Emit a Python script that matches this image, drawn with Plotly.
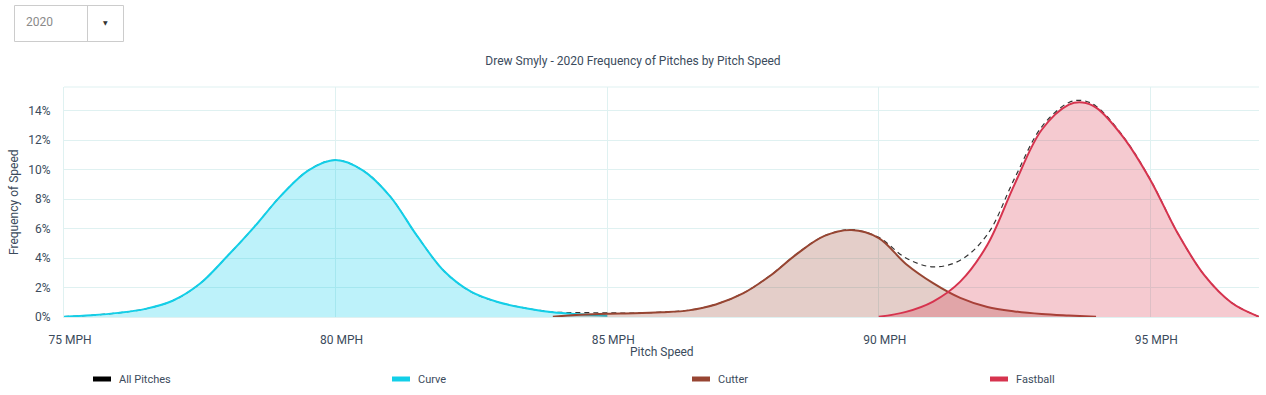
import plotly.graph_objects as go

# ---------------- data ----------------
series_names = ["All Pitches", "Curve", "Cutter", "Fastball"]

curve_mph = [75.0, 75.5, 76.0, 76.5, 77.0, 77.5, 78.0, 78.5, 79.0, 79.5, 80.0,
             80.5, 81.0, 81.5, 82.0, 82.5, 83.0, 83.5, 84.0, 84.5, 85.0]
curve_pct = [0.02, 0.12, 0.28, 0.55, 1.10, 2.25, 4.10, 6.10, 8.25, 9.95, 10.65,
             9.95, 8.20, 5.50, 3.10, 1.70, 1.00, 0.60, 0.32, 0.18, 0.08]

cutter_mph = [84.0, 84.5, 85.0, 85.5, 86.0, 86.5, 87.0, 87.5, 88.0, 88.5, 89.0,
              89.5, 90.0, 90.5, 91.0, 91.5, 92.0, 92.5, 93.0, 93.5, 94.0]
cutter_pct = [0.02, 0.15, 0.22, 0.25, 0.32, 0.45, 0.85, 1.60, 2.80, 4.30, 5.50,
              5.90, 5.35, 3.60, 2.30, 1.30, 0.68, 0.38, 0.20, 0.10, 0.02]

fastball_mph = [90.0, 90.5, 91.0, 91.5, 92.0, 92.5, 93.0, 93.5, 93.75, 94.0,
                94.5, 95.0, 95.5, 96.0, 96.5, 97.0]
fastball_pct = [0.02, 0.35, 1.05, 2.40, 4.90, 9.00, 12.70, 14.40, 14.55, 14.20,
                12.20, 9.30, 5.70, 2.80, 0.95, 0.02]

all_mph = [75.0, 75.5, 76.0, 76.5, 77.0, 77.5, 78.0, 78.5, 79.0, 79.5, 80.0,
           80.5, 81.0, 81.5, 82.0, 82.5, 83.0, 83.5, 84.0, 84.5, 85.0, 85.5,
           86.0, 86.5, 87.0, 87.5, 88.0, 88.5, 89.0, 89.5, 90.0, 90.5, 91.0,
           91.5, 92.0, 92.5, 93.0, 93.5, 93.75, 94.0, 94.5, 95.0, 95.5, 96.0,
           96.5, 97.0]
all_pct = [0.02, 0.12, 0.28, 0.55, 1.10, 2.25, 4.10, 6.10, 8.25, 9.95, 10.65,
           9.95, 8.20, 5.50, 3.10, 1.70, 1.00, 0.60, 0.34, 0.30, 0.28, 0.27,
           0.33, 0.46, 0.86, 1.61, 2.81, 4.31, 5.51, 5.92, 5.40, 4.00, 3.40,
           3.85, 5.60, 9.40, 12.90, 14.55, 14.68, 14.30, 12.25, 9.32, 5.71, 2.81,
           0.96, 0.02]

x_tick_vals = [75, 80, 85, 90, 95]
x_tick_text = ["75 MPH", "80 MPH", "85 MPH", "90 MPH", "95 MPH"]
y_tick_vals = [0, 2, 4, 6, 8, 10, 12, 14]
y_tick_text = ["0%", "2%", "4%", "6%", "8%", "10%", "12%", "14%"]

chart_title = "Drew Smyly - 2020 Frequency of Pitches by Pitch Speed"
season_label = "2020"

# ---------------- styling ----------------
W, H = 1266, 395
PL, PR, PT, PB = 64, 1259, 87, 317  # plot area in pixels

def px(x):
    return (x - PL) / (PR - PL)

def py(y):
    return (PB - y) / (PB - PT)

line_colors = {"All Pitches": "#000000", "Curve": "#12cfe8",
               "Cutter": "#974532", "Fastball": "#d6334e"}
fill_colors = {"Curve": "rgba(0,205,235,0.26)",
               "Cutter": "rgba(150,65,48,0.26)",
               "Fastball": "rgba(215,50,75,0.26)"}

FONT = "Roboto"
TXT = "#3b4b5c"
GRID = "#dff1f1"
SMOOTH = 1.0

fig = go.Figure()

fig.add_trace(go.Scatter(x=all_mph, y=all_pct, mode="lines", name="All Pitches",
                         line=dict(color="#333333", width=1.2, dash="5px,4px",
                                   shape="spline", smoothing=SMOOTH),
                         showlegend=False))
fig.add_trace(go.Scatter(x=curve_mph, y=curve_pct, mode="lines", name="Curve",
                         fill="tozeroy", fillcolor=fill_colors["Curve"],
                         line=dict(color=line_colors["Curve"], width=2,
                                   shape="spline", smoothing=SMOOTH),
                         showlegend=False))
fig.add_trace(go.Scatter(x=cutter_mph, y=cutter_pct, mode="lines", name="Cutter",
                         fill="tozeroy", fillcolor=fill_colors["Cutter"],
                         line=dict(color=line_colors["Cutter"], width=2,
                                   shape="spline", smoothing=SMOOTH),
                         showlegend=False))
fig.add_trace(go.Scatter(x=fastball_mph, y=fastball_pct, mode="lines", name="Fastball",
                         fill="tozeroy", fillcolor=fill_colors["Fastball"],
                         line=dict(color=line_colors["Fastball"], width=2,
                                   shape="spline", smoothing=SMOOTH),
                         showlegend=False))

shapes = []
annotations = []

# top border of plot
shapes.append(dict(type="line", xref="paper", yref="paper", x0=0, x1=1, y0=1, y1=1,
                   line=dict(color=GRID, width=1)))

# dropdown box
shapes.append(dict(type="rect", xref="paper", yref="paper",
                   x0=px(14.5), x1=px(123.5), y0=py(41.5), y1=py(5.5),
                   line=dict(color="#cccccc", width=1), fillcolor="white"))
shapes.append(dict(type="line", xref="paper", yref="paper",
                   x0=px(87.5), x1=px(87.5), y0=py(41.5), y1=py(5.5),
                   line=dict(color="#cccccc", width=1)))
annotations.append(dict(text=season_label, xref="paper", yref="paper",
                        x=px(24), y=py(22), xanchor="left", yanchor="middle",
                        showarrow=False, font=dict(family=FONT, size=12, color="#8a8a8a")))
annotations.append(dict(text="▼", xref="paper", yref="paper",
                        x=px(105.5), y=py(22), xanchor="center", yanchor="middle",
                        showarrow=False, font=dict(family="DejaVu Sans", size=6, color="#333333")))

# axis titles
annotations.append(dict(text="Pitch Speed", xref="paper", yref="paper",
                        x=0.5, y=py(352), xanchor="center", yanchor="middle",
                        showarrow=False, font=dict(family=FONT, size=12, color=TXT)))
annotations.append(dict(text="Frequency of Speed", xref="paper", yref="paper",
                        x=px(14), y=0.5, xanchor="center", yanchor="middle", textangle=-90,
                        showarrow=False, font=dict(family=FONT, size=12, color=TXT)))

# manual legend
legend_x = [93, 392, 692, 990]
for name, lx in zip(series_names, legend_x):
    shapes.append(dict(type="rect", xref="paper", yref="paper",
                       x0=px(lx), x1=px(lx + 18), y0=py(381.5), y1=py(376.5),
                       line=dict(width=0), fillcolor=line_colors[name]))
    annotations.append(dict(text=name, xref="paper", yref="paper",
                            x=px(lx + 24), y=py(379.5), xanchor="left", yanchor="middle",
                            showarrow=False, font=dict(family=FONT, size=11, color=TXT)))

fig.update_layout(
    width=W, height=H,
    margin=dict(l=PL, r=W - PR, t=PT, b=H - PB, pad=0),
    paper_bgcolor="white", plot_bgcolor="white",
    font=dict(family=FONT, size=12, color=TXT),
    title=dict(text=chart_title, x=0.5, xref="container", xanchor="center",
               y=1 - 61 / H, yref="container", yanchor="middle",
               font=dict(family=FONT, size=12, color=TXT)),
    xaxis=dict(range=[75, 97], tickvals=x_tick_vals, ticktext=x_tick_text,
               showgrid=True, gridcolor=GRID, gridwidth=1, zeroline=False,
               showline=True, linecolor=GRID, ticks="", ticklabelshift=6,
               ticklabelstandoff=12, tickfont=dict(family=FONT, size=12, color=TXT)),
    yaxis=dict(range=[0, 15.6], tickvals=y_tick_vals, ticktext=y_tick_text,
               showgrid=True, gridcolor=GRID, gridwidth=1, zeroline=False,
               showline=True, linecolor=GRID, ticks="", ticklabelstandoff=10,
               tickfont=dict(family=FONT, size=12, color=TXT)),
    shapes=shapes, annotations=annotations,
    showlegend=False,
    hovermode="x",
)

fig.write_html("out.html", config={"displayModeBar": False},
               post_script="document.body.style.margin='0';document.body.style.overflow='hidden';")
